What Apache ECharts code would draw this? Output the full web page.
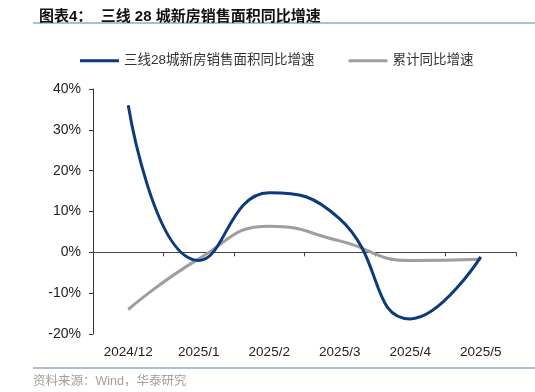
<!DOCTYPE html>
<html><head><meta charset="utf-8">
<script src="https://cdn.jsdelivr.net/npm/echarts@6/dist/echarts.min.js"></script>
<style>html,body{margin:0;padding:0;background:#fff}#c{width:535px;height:392px}</style>
</head><body><div id="c"></div>
<script>
const categories = ['2024/12','2025/1','2025/2','2025/3','2025/4','2025/5'];
const tier3Growth = [36, -2, 14.6, 8.2, -16.3, -1.1];
const cumulativeGrowth = [-14, -1.6, 6.4, 2.8, -2.0, -1.7];
const yTicks = [-20, -10, 0, 10, 20, 30, 40];
const seriesNames = ['三线28城新房销售面积同比增速', '累计同比增速'];

const chart = echarts.init(document.getElementById('c'), null, {renderer:'canvas'});
const font = '"Liberation Sans", Arial, "Noto Sans CJK SC", sans-serif';
chart.setOption({
  animation:false,
  textStyle:{fontFamily:font},
  title:{text:'图表4：  三线 28 城新房销售面积同比增速', left:34, top:4,
    textStyle:{fontSize:15, fontWeight:'bold', color:'#111', fontFamily:font}},
  graphic:[
    {type:'line', shape:{x1:33,y1:23,x2:535,y2:23}, style:{stroke:'#8FA8C6', lineWidth:1.5}},
    {type:'line', shape:{x1:33,y1:368,x2:535,y2:368}, style:{stroke:'#8FA8C6', lineWidth:1.5}},
    {type:'text', left:33, top:375, style:{text:'资料来源：Wind，华泰研究', fill:'#a0a0a0', fontSize:12.5, fontFamily:font}}
  ],
  legend:{top:49, left:75, itemWidth:39, itemHeight:3, itemGap:34, icon:'rect',
    textStyle:{fontSize:13.5, color:'#333', fontFamily:font},
    data:seriesNames},
  grid:{left:93, right:19, top:89, bottom:58},
  xAxis:[
    {type:'category', data:categories, boundaryGap:true, position:'bottom',
     axisLine:{show:false, onZero:false}, axisTick:{show:false},
     axisLabel:{fontSize:13.5, color:'#222', margin:12}},
    {type:'category', data:categories, boundaryGap:true, position:'bottom',
     axisLine:{show:true, onZero:true, lineStyle:{color:'#444', width:1}},
     axisTick:{show:true, inside:false, length:4, alignWithLabel:false, lineStyle:{color:'#444'}},
     axisLabel:{show:false}}
  ],
  yAxis:{type:'value', min:-20, max:40, interval:10,
    axisLine:{show:true, lineStyle:{color:'#333'}},
    axisTick:{show:true, length:4, lineStyle:{color:'#333'}},
    splitLine:{show:false},
    axisLabel:{fontSize:14, color:'#222', margin:12, formatter:v=>yTicks.includes(v)?v+'%':''}},
  series:[
    {name:seriesNames[0], type:'line', xAxisIndex:0, data:tier3Growth, smooth:0.5, symbol:'none',
     lineStyle:{color:'#0B3A7E', width:3}, itemStyle:{color:'#0B3A7E'}, z:3},
    {name:seriesNames[1], type:'line', xAxisIndex:0, data:cumulativeGrowth, smooth:0.5, symbol:'none',
     lineStyle:{color:'#9E9E9E', width:3}, itemStyle:{color:'#9E9E9E'}, z:2}
  ]
});
</script></body></html>
